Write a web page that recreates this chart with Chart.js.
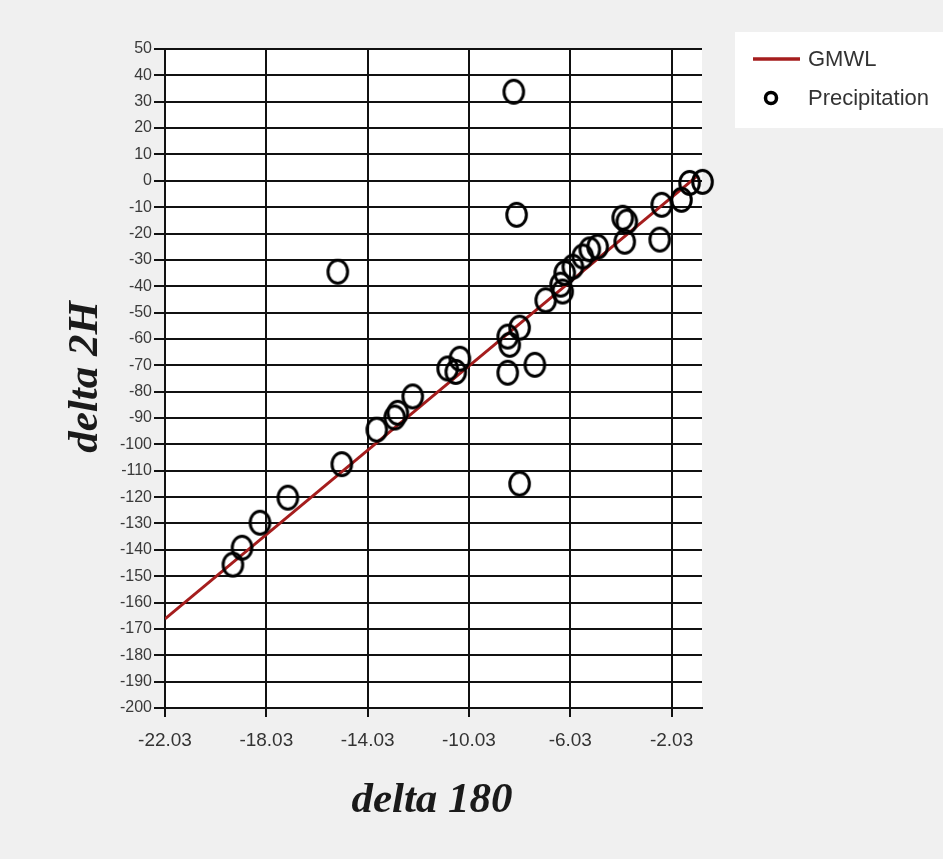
<!DOCTYPE html>
<html lang="en">
<head>
<meta charset="utf-8">
<title>delta 2H vs delta 180</title>
<script src="https://cdn.jsdelivr.net/npm/chart.js@4.4.1/dist/chart.umd.min.js"></script>
<style>
  html, body { margin: 0; padding: 0; background: #f0f0f0; }
</style>
</head>
<body>
<canvas id="chart" width="943" height="859"></canvas>
<script>
// axis ticks
var xTicks = [-22.03, -18.03, -14.03, -10.03, -6.03, -2.03];
var yMin = -200, yMax = 50, yStep = 10;

// GMWL end points
var gmwlX = [-22.03, -1.0];
var gmwlY = [-166.2, 2.0];

// precipitation samples (delta 18O, delta 2H)
var precipX = [-8.26, -8.15, -15.21, -8.03,
  -0.81, -1.32, -1.64, -2.42, -2.50, -3.96, -3.80, -3.88,
  -4.95, -5.26, -5.54, -5.93, -6.25, -6.41, -6.33, -7.00,
  -8.50, -8.03, -8.42, -8.50, -7.43, -10.39, -10.87, -10.55,
  -12.25, -12.84, -12.96, -13.67, -15.05, -17.18, -18.28, -18.99, -19.35];
var precipY = [33.8, -12.9, -34.5, -114.9,
  -0.4, -0.8, -7.2, -9.1, -22.3, -14.0, -15.5, -23.1,
  -25.0, -26.0, -28.7, -32.6, -35.0, -39.4, -42.0, -45.3,
  -59.1, -55.7, -62.2, -72.8, -69.8, -67.5, -71.2, -72.5,
  -81.8, -88.0, -89.8, -94.4, -107.5, -120.2, -129.7, -139.2, -145.6];

var lineColor = '#a51d1d';
var sans = "'Liberation Sans', Arial, sans-serif";
var serif = "'Liberation Serif', 'DejaVu Serif', serif";

function toPoints(xs, ys) {
  var out = [];
  for (var i = 0; i < xs.length; i++) out.push({ x: xs[i], y: ys[i] });
  return out;
}

// slightly tall open ellipse, like the original markers
function ringMarker(rx, ry, lw) {
  var c = document.createElement('canvas');
  c.width = Math.ceil(rx * 2 + lw + 2);
  c.height = Math.ceil(ry * 2 + lw + 2);
  var g = c.getContext('2d');
  g.strokeStyle = '#000';
  g.lineWidth = lw;
  g.beginPath();
  g.ellipse(c.width / 2, c.height / 2, rx, ry, 0, 0, Math.PI * 2);
  g.stroke();
  return c;
}

var decor = {
  id: 'decor',
  beforeDraw: function (chart) {
    var c = chart.ctx, a = chart.chartArea;
    c.save();
    c.fillStyle = '#f0f0f0';
    c.fillRect(0, 0, chart.width, chart.height);
    c.fillStyle = '#ffffff';
    c.fillRect(a.left, a.top, a.right - a.left, a.bottom - a.top);
    c.restore();
  },
  afterDraw: function (chart) {
    var c = chart.ctx;
    c.save();
    // legend
    c.fillStyle = '#ffffff';
    c.fillRect(735, 32, 208, 96);
    c.strokeStyle = lineColor;
    c.lineWidth = 3.5;
    c.beginPath();
    c.moveTo(753, 59);
    c.lineTo(800, 59);
    c.stroke();
    c.strokeStyle = '#000';
    c.lineWidth = 3.5;
    c.beginPath();
    c.arc(771, 98, 5.5, 0, Math.PI * 2);
    c.stroke();
    c.fillStyle = '#333';
    c.font = '22px ' + sans;
    c.textBaseline = 'middle';
    c.textAlign = 'left';
    c.fillText('GMWL', 808, 60);
    c.fillText('Precipitation', 808, 99);
    // axis titles
    c.fillStyle = '#1a1a1a';
    c.font = 'bold italic 43px ' + serif;
    c.textAlign = 'center';
    c.textBaseline = 'alphabetic';
    c.fillText('delta 180', 432, 812);
    c.translate(97, 377);
    c.rotate(-Math.PI / 2);
    c.fillText('delta 2H', 0, 0);
    c.restore();
  }
};

new Chart(document.getElementById('chart'), {
  type: 'scatter',
  data: {
    datasets: [{
      label: 'Precipitation',
      data: toPoints(precipX, precipY),
      pointStyle: ringMarker(9.8, 11.5, 3),
      pointRadius: 12,
      pointHoverRadius: 12,
      clip: false,
      order: 0
    }, {
      label: 'GMWL',
      data: toPoints(gmwlX, gmwlY),
      showLine: true,
      borderColor: lineColor,
      borderWidth: 3,
      pointRadius: 0,
      pointHoverRadius: 0,
      order: 1
    }]
  },
  options: {
    responsive: false,
    animation: false,
    layout: { padding: { left: 0, top: 49, right: 241, bottom: 0 } },
    plugins: { legend: { display: false }, tooltip: { enabled: false } },
    scales: {
      x: {
        type: 'linear',
        min: xTicks[0],
        max: -0.83,
        afterBuildTicks: function (s) { s.ticks = xTicks.map(function (v) { return { value: v }; }); },
        afterFit: function (s) { s.height = 151; },
        ticks: {
          autoSkip: false, maxRotation: 0, padding: 12,
          color: '#333', font: { family: sans, size: 19 },
          callback: function (v) { return Number(v).toFixed(2); }
        },
        grid: { color: '#111', lineWidth: 2, tickLength: 9 },
        border: { color: '#111', width: 2 }
      },
      y: {
        min: yMin,
        max: yMax,
        afterFit: function (s) { s.width = 165; },
        ticks: {
          stepSize: yStep, autoSkip: false, padding: 2,
          color: '#3a3a3a', font: { family: sans, size: 16 }
        },
        grid: { color: '#111', lineWidth: 2, tickLength: 11 },
        border: { color: '#111', width: 2 }
      }
    }
  },
  plugins: [decor]
});
</script>
</body>
</html>
